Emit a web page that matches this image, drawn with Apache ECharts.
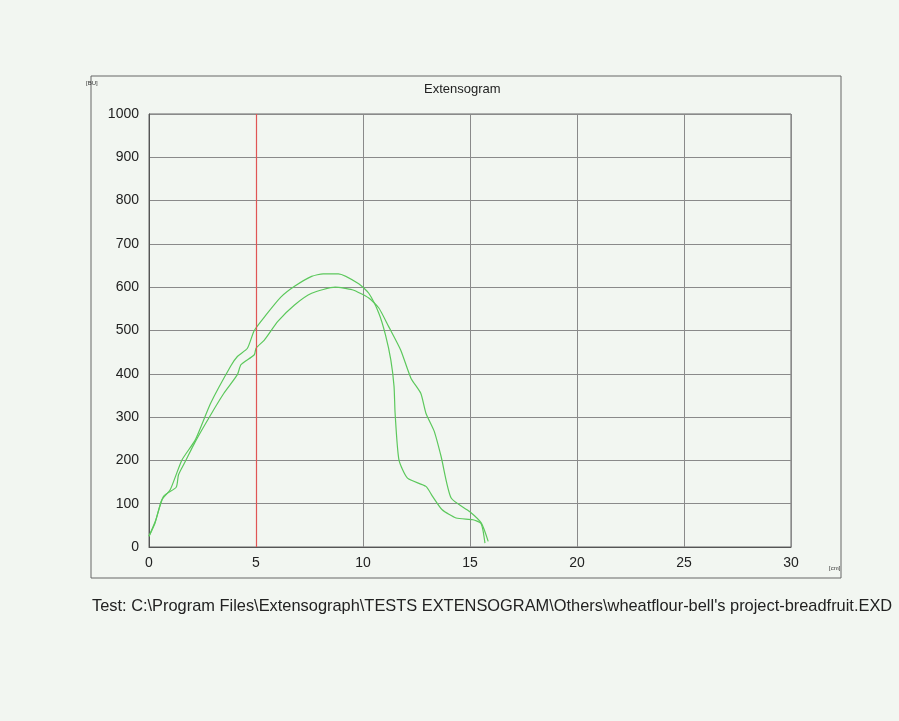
<!DOCTYPE html>
<html><head><meta charset="utf-8">
<script src="https://cdn.jsdelivr.net/npm/echarts@6/dist/echarts.min.js"></script>
<style>html,body{margin:0;padding:0;background:#f2f6f1;}#c{width:899px;height:721px;}</style>
</head><body><div id="c"></div>
<script>
// Curve 1 (taller peak, steep drop)
const curve1X = [0,0.28,0.6,0.99,1.54,2.17,2.88,3.82,4.13,4.6,4.92,5.47,6.16,6.8,7.6,8.14,8.85,9.8,10.27,10.74,11.05,11.3,11.45,11.5,11.68,12.08,12.94,13.25,13.7,14.35,15.14,15.5,15.6,15.7];
const curve1Y = [25,55,109,132,201,248,332,418,440,459,500,536,577,602,625,631,631,608,586,540,490,432,371,309,201,159,140,117,86,67,63,55,40,9];
// Curve 2 (lower peak, gradual drop)
const curve2X = [0,0.3,0.68,1.27,1.38,1.7,2.17,2.88,3.5,4.13,4.3,4.92,5.0,5.39,6.02,6.8,7.6,8.7,9.5,10.27,10.74,11.2,11.76,12.24,12.7,12.94,13.33,13.65,14.12,14.98,15.53,15.85];
const curve2Y = [25,60,117,138,167,198,244,305,355,398,421,444,459,478,521,559,586,600,594,575,552,509,455,390,355,309,267,209,113,82,55,13];
const xTicks = [0,5,10,15,20,25,30];
const yTicks = [0,100,200,300,400,500,600,700,800,900,1000];
const redLineAt = 5;

const chart = echarts.init(document.getElementById('c'));
const pair = (xs, ys) => xs.map((x, i) => [x, ys[i]]);
const green = '#5cc85c';
const font = 'Liberation Sans, Arial, sans-serif';
chart.setOption({
  backgroundColor: '#f2f6f1',
  animation: false,
  grid: {left: 149, top: 114, width: 642, height: 433, show: true, borderColor: '#666', borderWidth: 1, backgroundColor: 'transparent'},
  xAxis: {type: 'value', min: xTicks[0], max: xTicks[xTicks.length-1], interval: 5,
    axisLine: {show: true, onZero: false, lineStyle: {color: '#555'}}, axisTick: {show: false},
    axisLabel: {color: '#222', fontSize: 14, fontFamily: font, margin: 9, formatter: v => String(v)},
    splitLine: {show: true, lineStyle: {color: '#8a8a8a', width: 1}}},
  yAxis: {type: 'value', min: yTicks[0], max: yTicks[yTicks.length-1], interval: 100,
    axisLine: {show: true, lineStyle: {color: '#555'}}, axisTick: {show: false},
    axisLabel: {color: '#222', fontSize: 14, fontFamily: font, margin: 10, formatter: v => String(v)},
    splitLine: {show: true, lineStyle: {color: '#8a8a8a', width: 1}}},
  graphic: [
    {type: 'rect', shape: {x: 91, y: 76, width: 750, height: 502}, style: {fill: 'none', stroke: '#666', lineWidth: 1}, z: -1},
    {type: 'text', left: 86, top: 80, style: {text: '[BU]', fontSize: 6, fill: '#333', fontFamily: font}},
    {type: 'text', left: 424, top: 83, style: {text: 'Extensogram', fontSize: 13, fill: '#222', fontFamily: font}},
    {type: 'text', left: 829, top: 565, style: {text: '[cm]', fontSize: 6, fill: '#333', fontFamily: font}},
    {type: 'text', left: 92, top: 598, style: {text: "Test: C:\\Program Files\\Extensograph\\TESTS EXTENSOGRAM\\Others\\wheatflour-bell's project-breadfruit.EXD", fontSize: 16.4, fill: '#222', fontFamily: font}}
  ],
  series: [
    {type: 'line', data: pair(curve1X, curve1Y), showSymbol: false, smooth: 0.2, lineStyle: {color: green, width: 1.2}, z: 3},
    {type: 'line', data: pair(curve2X, curve2Y), showSymbol: false, smooth: 0.2, lineStyle: {color: green, width: 1.2}, z: 3},
    {type: 'line', data: [], z: 2,
      markLine: {silent: true, symbol: 'none', label: {show: false}, lineStyle: {color: '#e05555', type: 'solid', width: 1.2, opacity: 1}, data: [{xAxis: redLineAt}]}}
  ]
});
</script></body></html>
